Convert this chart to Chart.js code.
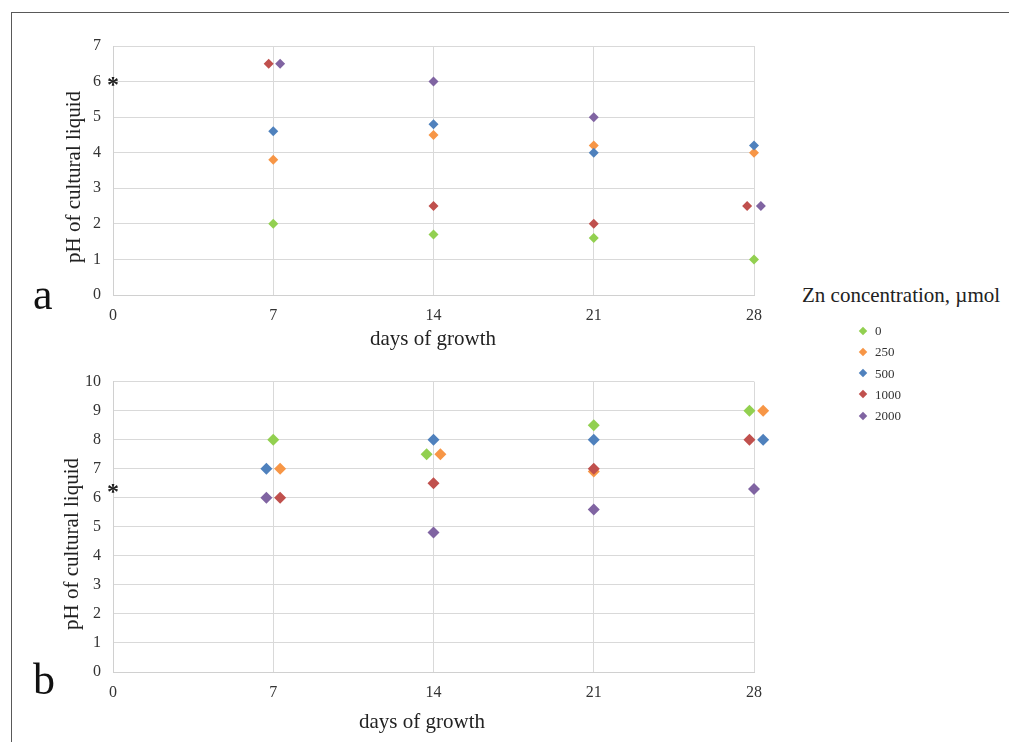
<!DOCTYPE html>
<html>
<head>
<meta charset="utf-8">
<script src="https://cdn.jsdelivr.net/npm/chart.js@4.4.1/dist/chart.umd.min.js"></script>
<style>
  body { margin: 0; background: #fff; font-family: "Liberation Serif", "Times New Roman", serif; }
  #page { position: relative; width: 1009px; height: 742px; overflow: hidden; background: #fff; }
  #frame { position: absolute; left: 11px; top: 12px; width: 1100px; height: 800px;
           border-top: 1px solid #595959; border-left: 1px solid #595959; }
  canvas { position: absolute; left: 0; }
  #chartA { top: 0; }
  #chartB { top: 360px; }
  .txt { position: absolute; color: #222; white-space: nowrap; line-height: 1; }
  .letter { font-size: 44px; color: #111; }
  .ytitle { font-size: 21px; transform: translate(-50%, -50%) rotate(-90deg); }
  .xtitle { font-size: 21px; transform: translateX(-50%); }
  #legend { position: absolute; left: 0; top: 0; }
  .row { position: absolute; height: 21px; font-size: 13px; color: #333; }
  .dia { position: absolute; width: 6px; height: 6px; transform: rotate(45deg); }
</style>
</head>
<body>
<div id="page">
  <div id="frame"></div>
  <canvas id="chartA" width="800" height="360"></canvas>
  <canvas id="chartB" width="800" height="382"></canvas>

  <div class="txt letter" style="left:33px; top:273px;">a</div>
  <div class="txt letter" style="left:33px; top:658px;">b</div>

  <div class="txt ytitle" style="left:73px; top:177px;">pH of cultural liquid</div>
  <div class="txt ytitle" style="left:71px; top:544px;">pH of cultural liquid</div>
  <div class="txt xtitle" style="left:433px; top:328px;">days of growth</div>
  <div class="txt xtitle" style="left:422px; top:711px;">days of growth</div>

  <div class="txt" style="left:802px; top:285px; font-size:21px;">Zn concentration, µmol</div>
  <div id="legend"></div>
</div>

<script>
// Zn concentration series (µmol)
var seriesLabels = ['0', '250', '500', '1000', '2000'];
var seriesColors = ['#92D050', '#F79646', '#4F81BD', '#C0504D', '#8064A2'];

// panel a: pH of cultural liquid
var phA0    = [2.0, 1.7, 1.6, 1.0];
var phA250  = [3.8, 4.5, 4.2, 4.0];
var phA500  = [4.6, 4.8, 4.0, 4.2];
var phA1000 = [6.5, 2.5, 2.0, 2.5];
var phA2000 = [6.5, 6.0, 5.0, 2.5];
// days (slightly shifted where markers would sit on top of each other)
var dayA0    = [7, 14, 21, 28];
var dayA250  = [7, 14, 21, 28];
var dayA500  = [7, 14, 21, 28];
var dayA1000 = [6.8, 14, 21, 27.7];
var dayA2000 = [7.3, 14, 21, 28.3];

// panel b
var phB0    = [8.0, 7.5, 8.5, 9.0];
var phB250  = [7.0, 7.5, 6.9, 9.0];
var phB500  = [7.0, 8.0, 8.0, 8.0];
var phB1000 = [6.0, 6.5, 7.0, 8.0];
var phB2000 = [6.0, 4.8, 5.6, 6.3];
var dayB0    = [7, 13.7, 21, 27.8];
var dayB250  = [7.3, 14.3, 21, 28.4];
var dayB500  = [6.7, 14, 21, 28.4];
var dayB1000 = [7.3, 14, 21, 27.8];
var dayB2000 = [6.7, 14, 21, 28];

// initial pH of the medium (marked with *)
var initialA = 6.0;
var initialB = 6.3;

var fontFamily = '"Liberation Serif", "Times New Roman", serif';

function toPoints(xs, ys) {
    return xs.map(function(x, i) { return { x: x, y: ys[i] }; });
}

var asteriskPlugin = {
    id: 'asterisk',
    afterDatasetsDraw: function(chart, args, opts) {
        var ctx = chart.ctx;
        var size = 24;
        ctx.save();
        ctx.font = 'bold ' + size + 'px ' + fontFamily;
        ctx.fillStyle = '#222';
        ctx.textAlign = 'center';
        ctx.textBaseline = 'middle';
        ctx.fillText('*', chart.scales.x.getPixelForValue(0), chart.scales.y.getPixelForValue(opts.value) + size * 0.17);
        ctx.restore();
    }
};

function makeChart(id, xsList, ysList, yMax, radius, xAxisHeight, padTop, initial) {
    var datasets = seriesLabels.map(function(label, i) {
        return {
            label: label,
            data: toPoints(xsList[i], ysList[i]),
            backgroundColor: seriesColors[i],
            borderWidth: 0,
            pointStyle: 'rectRot',
            pointRadius: radius,
            // larger hover radius so markers just past x = 28 are still drawn
            pointHoverRadius: 14,
            clip: false,
            order: -i
        };
    });
    return new Chart(document.getElementById(id), {
        type: 'scatter',
        data: { datasets: datasets },
        plugins: [asteriskPlugin],
        options: {
            responsive: false,
            animation: false,
            events: [],
            layout: { padding: { left: 0, top: padTop, right: 46, bottom: 0 } },
            plugins: {
                legend: { display: false },
                tooltip: { enabled: false },
                asterisk: { value: initial }
            },
            scales: {
                x: {
                    type: 'linear',
                    min: 0,
                    max: 28,
                    ticks: { stepSize: 7, padding: 11, color: '#333', font: { family: fontFamily, size: 16 } },
                    grid: { color: '#d9d9d9', drawTicks: false },
                    border: { color: '#d0d0d0' },
                    afterFit: function(s) { s.height = xAxisHeight; }
                },
                y: {
                    min: 0,
                    max: yMax,
                    ticks: { stepSize: 1, padding: 12, color: '#333', font: { family: fontFamily, size: 16 } },
                    grid: { color: '#d9d9d9', drawTicks: false },
                    border: { color: '#d0d0d0' },
                    afterFit: function(s) { s.width = 113; }
                }
            }
        }
    });
}

function buildLegend() {
    var legend = document.getElementById('legend');
    seriesLabels.forEach(function(label, i) {
        var row = document.createElement('div');
        row.className = 'row';
        row.style.left = '0px';
        row.style.top = (320 + i * 21.3) + 'px';
        row.style.width = '1009px';
        row.style.lineHeight = '21.3px';
        var d = document.createElement('div');
        d.className = 'dia';
        d.style.background = seriesColors[i];
        d.style.left = '860px';
        d.style.top = '7.5px';
        var t = document.createElement('span');
        t.textContent = label;
        t.style.position = 'absolute';
        t.style.left = '875px';
        row.appendChild(d);
        row.appendChild(t);
        legend.appendChild(row);
    });
}

window.onload = function() {
    makeChart('chartA',
        [dayA0, dayA250, dayA500, dayA1000, dayA2000],
        [phA0, phA250, phA500, phA1000, phA2000],
        7, 5, 65, 46, initialA);
    makeChart('chartB',
        [dayB0, dayB250, dayB500, dayB1000, dayB2000],
        [phB0, phB250, phB500, phB1000, phB2000],
        10, 6, 70, 19, initialB);
    buildLegend();
};
</script>
</body>
</html>
